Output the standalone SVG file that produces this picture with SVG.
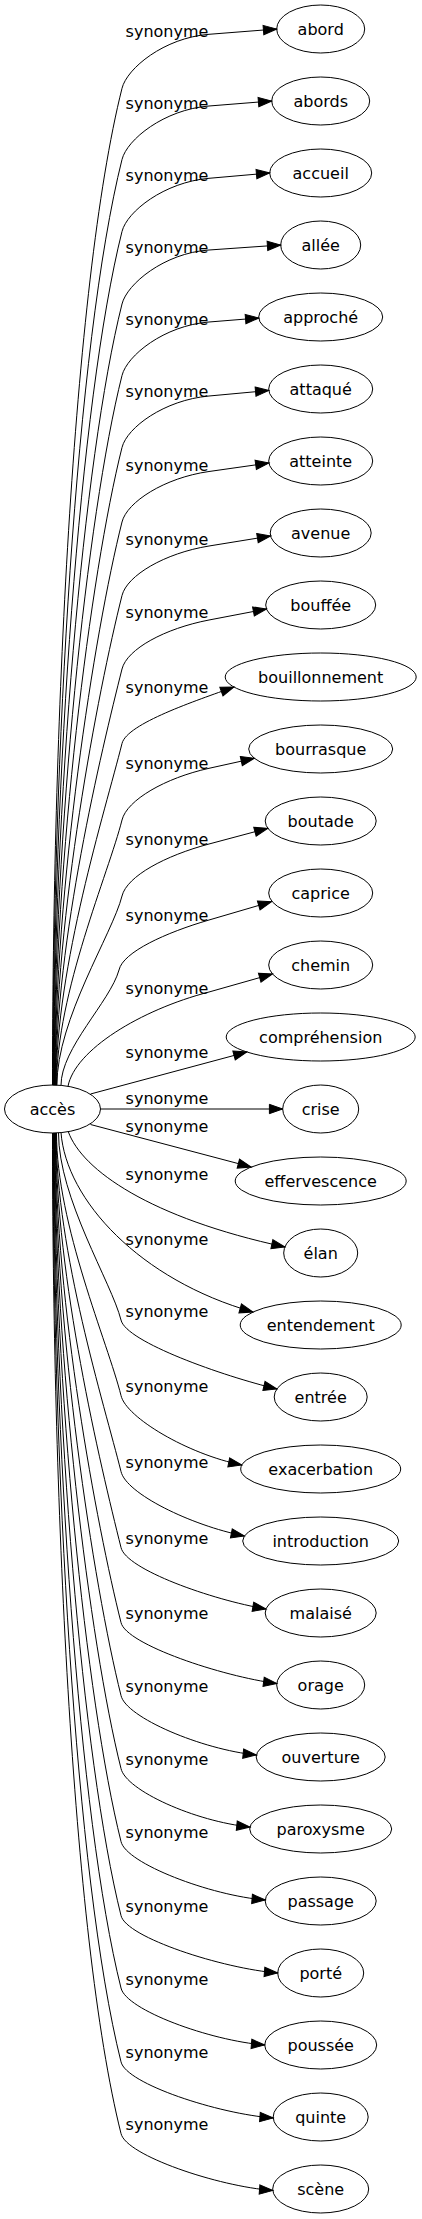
<svg xmlns="http://www.w3.org/2000/svg" width="422" height="2219" viewBox="0 0 422 2219">
<style>
.node ellipse{fill:none;stroke:#000;stroke-width:1}
.node text{font-family:"DejaVu Sans","Liberation Sans",sans-serif;font-size:16px;fill:#000;text-anchor:middle}
.edges path{fill:none;stroke:#000;stroke-width:1;marker-end:url(#arr)}
.edges text{font-family:"DejaVu Sans","Liberation Sans",sans-serif;font-size:16px;fill:#000;text-anchor:middle}
</style>
<defs>
<marker id="arr" markerUnits="userSpaceOnUse" markerWidth="14" markerHeight="10" viewBox="0 0 14 10" refX="13.3" refY="4.67" orient="auto" overflow="visible">
<path d="M0,0 L13.3,4.67 L0,9.33 z" fill="#000" stroke="#000" stroke-width="1"/>
</marker>
</defs>
<rect width="422" height="2219" fill="#fff"/>
<g id="edges" class="edges">
<path d="M52.5,1085.2 C52.5,736.3 72.2,287.7 122,88.3 C127,68.3 164.1,37.8 209,34.3 L276.7,29"/>
<path d="M52.9,1085.2 C52.9,761.2 75.7,344.6 122,159.5 C127,139.5 164.1,109.6 209,106 L271.7,101"/>
<path d="M53.3,1085.2 C53.3,786.4 79.3,402.2 122,231.5 C127,211.5 164.2,182.2 209,178.3 L269.7,173"/>
<path d="M53.7,1085.2 C53.7,811.8 82.9,460.2 122,304 C127,284 164.1,253.1 209,250 L280.7,245"/>
<path d="M54.1,1085.2 C54.1,836.8 86.5,517.4 122,375.5 C127,355.5 164.1,325.6 209,322 L258.8,318"/>
<path d="M54.5,1085.2 C54.5,862 90.1,575 122,447.5 C127,427.5 164.2,400.1 209,396 L268.8,390.5"/>
<path d="M54.9,1085.2 C54.9,888.1 93.8,634.6 122,522 C127,502 164.4,477.8 209,471.5 L268.9,463"/>
<path d="M55.3,1085.2 C55.3,913.8 97.5,693.4 122,595.5 C127,575.5 164.6,553.2 209,546 L270.6,536"/>
<path d="M55.7,1085.2 C55.7,939.5 101.2,752.2 122,669 C127,649 164.8,628.5 209,620 L266.5,609"/>
<path d="M56.1,1085.2 C56.1,965.6 104.9,811.8 122,743.5 C127,723.5 196.3,700.6 233.9,687"/>
<path d="M56.5,1085.2 C56.5,992.4 108.7,873 122,820 C127,800 165.1,778 209,768.3 L254.3,758.3"/>
<path d="M56.9,1085.2 C56.9,1019 112.5,933.8 122,896 C127,876 165.5,855.6 209,844 L267.8,828.3"/>
<path d="M61,1085.4 C61,1048 110,1002 119,970 C123,952 165.8,932.6 209,920 L271.5,901.7"/>
<path d="M68,1086.3 C75,1050 140,1010 209,992 L272.5,974"/>
<path d="M90.5,1094 L246.9,1052"/>
<path d="M100.5,1109 L282.7,1109"/>
<path d="M90.5,1124.5 L251.2,1167"/>
<path d="M68.3,1131.7 C82,1170 150,1218 284.9,1247"/>
<path d="M61,1132.4 C66,1200 140,1280 253,1312"/>
<path d="M58.5,1132.8 C58.5,1198.3 111.6,1282.6 121,1320 C126,1342 223.4,1376.2 276.9,1389"/>
<path d="M56.5,1133 C56.5,1224.9 107.9,1343 121,1395.5 C126,1417.5 187.8,1454.2 241.8,1465"/>
<path d="M56.1,1133 C56.1,1251.5 104.1,1403.8 121,1471.5 C126,1493.5 190.4,1525.2 244.4,1536"/>
<path d="M55.7,1133 C55.7,1278.1 100.3,1464.6 121,1547.5 C126,1569.5 211.8,1599.8 266,1609"/>
<path d="M55.3,1133 C55.3,1304.3 96.5,1524.6 121,1622.5 C126,1644.5 222.3,1676.4 276.8,1683.5"/>
<path d="M54.9,1133 C54.9,1329.9 92.9,1583 121,1695.5 C126,1717.5 201.7,1749.5 256.4,1755"/>
<path d="M54.5,1133 C54.5,1355.4 89.2,1641.4 121,1768.5 C126,1790.5 195.3,1821.5 250,1827"/>
<path d="M54.1,1133 C54.1,1381 85.6,1699.8 121,1841.5 C126,1863.5 210.5,1895.6 265.3,1900"/>
<path d="M53.7,1133 C53.7,1406.9 81.9,1759 121,1915.5 C126,1937.5 222.9,1968.6 277.7,1973"/>
<path d="M53.3,1133 C53.3,1432.3 78.25,1817 121,1988 C126,2010 209.9,2040.6 264.7,2045"/>
<path d="M52.9,1133 C52.9,1458.1 74.6,1876 121,2061.8 C126,2083.8 218.4,2113.9 273.2,2118"/>
<path d="M52.5,1133 C52.5,1483.2 71,1933.4 121,2133.5 C126,2155.5 218,2186.4 272.8,2190.5"/>
<text x="167" y="37.3">synonyme</text>
<text x="167" y="108.5">synonyme</text>
<text x="167" y="180.5">synonyme</text>
<text x="167" y="253">synonyme</text>
<text x="167" y="324.5">synonyme</text>
<text x="167" y="396.5">synonyme</text>
<text x="167" y="471">synonyme</text>
<text x="167" y="544.5">synonyme</text>
<text x="167" y="618">synonyme</text>
<text x="167" y="692.5">synonyme</text>
<text x="167" y="769">synonyme</text>
<text x="167" y="845">synonyme</text>
<text x="167" y="921">synonyme</text>
<text x="167" y="993.5">synonyme</text>
<text x="167" y="1058">synonyme</text>
<text x="167" y="1104">synonyme</text>
<text x="167" y="1131.7">synonyme</text>
<text x="167" y="1179.5">synonyme</text>
<text x="167" y="1245">synonyme</text>
<text x="167" y="1316.5">synonyme</text>
<text x="167" y="1392">synonyme</text>
<text x="167" y="1468">synonyme</text>
<text x="167" y="1544">synonyme</text>
<text x="167" y="1619">synonyme</text>
<text x="167" y="1692">synonyme</text>
<text x="167" y="1765">synonyme</text>
<text x="167" y="1838">synonyme</text>
<text x="167" y="1912">synonyme</text>
<text x="167" y="1984.5">synonyme</text>
<text x="167" y="2058.3">synonyme</text>
<text x="167" y="2130">synonyme</text>
</g>
<g id="n-acces" class="node"><ellipse cx="52.5" cy="1109" rx="48" ry="24"/><text x="52.5" y="1115">accès</text></g>
<g id="n-abord" class="node"><ellipse cx="320.7" cy="29" rx="44" ry="24"/><text x="320.7" y="35">abord</text></g>
<g id="n-abords" class="node"><ellipse cx="320.7" cy="101" rx="49" ry="24"/><text x="320.7" y="107">abords</text></g>
<g id="n-accueil" class="node"><ellipse cx="320.7" cy="173" rx="51" ry="24"/><text x="320.7" y="179">accueil</text></g>
<g id="n-allee" class="node"><ellipse cx="320.7" cy="245" rx="40" ry="24"/><text x="320.7" y="251">allée</text></g>
<g id="n-approche" class="node"><ellipse cx="320.7" cy="317" rx="62" ry="24"/><text x="320.7" y="323">approché</text></g>
<g id="n-attaque" class="node"><ellipse cx="320.7" cy="389" rx="52" ry="24"/><text x="320.7" y="395">attaqué</text></g>
<g id="n-atteinte" class="node"><ellipse cx="320.7" cy="461" rx="52" ry="24"/><text x="320.7" y="467">atteinte</text></g>
<g id="n-avenue" class="node"><ellipse cx="320.7" cy="533" rx="50.5" ry="24"/><text x="320.7" y="539">avenue</text></g>
<g id="n-bouffee" class="node"><ellipse cx="320.7" cy="605" rx="55" ry="24"/><text x="320.7" y="611">bouffée</text></g>
<g id="n-bouillonnement" class="node"><ellipse cx="320.7" cy="677" rx="95.5" ry="24"/><text x="320.7" y="683">bouillonnement</text></g>
<g id="n-bourrasque" class="node"><ellipse cx="320.7" cy="749" rx="72" ry="24"/><text x="320.7" y="755">bourrasque</text></g>
<g id="n-boutade" class="node"><ellipse cx="320.7" cy="821" rx="55.5" ry="24"/><text x="320.7" y="827">boutade</text></g>
<g id="n-caprice" class="node"><ellipse cx="320.7" cy="893" rx="52" ry="24"/><text x="320.7" y="899">caprice</text></g>
<g id="n-chemin" class="node"><ellipse cx="320.7" cy="965" rx="52" ry="24"/><text x="320.7" y="971">chemin</text></g>
<g id="n-comprehension" class="node"><ellipse cx="320.7" cy="1037" rx="94.5" ry="24"/><text x="320.7" y="1043">compréhension</text></g>
<g id="n-crise" class="node"><ellipse cx="320.7" cy="1109" rx="38" ry="24"/><text x="320.7" y="1115">crise</text></g>
<g id="n-effervescence" class="node"><ellipse cx="320.7" cy="1181" rx="85.5" ry="24"/><text x="320.7" y="1187">effervescence</text></g>
<g id="n-elan" class="node"><ellipse cx="320.7" cy="1253" rx="37" ry="24"/><text x="320.7" y="1259">élan</text></g>
<g id="n-entendement" class="node"><ellipse cx="320.7" cy="1325" rx="80.5" ry="24"/><text x="320.7" y="1331">entendement</text></g>
<g id="n-entree" class="node"><ellipse cx="320.7" cy="1397" rx="46.5" ry="24"/><text x="320.7" y="1403">entrée</text></g>
<g id="n-exacerbation" class="node"><ellipse cx="320.7" cy="1469" rx="80" ry="24"/><text x="320.7" y="1475">exacerbation</text></g>
<g id="n-introduction" class="node"><ellipse cx="320.7" cy="1541" rx="78" ry="24"/><text x="320.7" y="1547">introduction</text></g>
<g id="n-malaise" class="node"><ellipse cx="320.7" cy="1613" rx="55.5" ry="24"/><text x="320.7" y="1619">malaisé</text></g>
<g id="n-orage" class="node"><ellipse cx="320.7" cy="1685" rx="44" ry="24"/><text x="320.7" y="1691">orage</text></g>
<g id="n-ouverture" class="node"><ellipse cx="320.7" cy="1757" rx="64.5" ry="24"/><text x="320.7" y="1763">ouverture</text></g>
<g id="n-paroxysme" class="node"><ellipse cx="320.7" cy="1829" rx="71" ry="24"/><text x="320.7" y="1835">paroxysme</text></g>
<g id="n-passage" class="node"><ellipse cx="320.7" cy="1901" rx="55.5" ry="24"/><text x="320.7" y="1907">passage</text></g>
<g id="n-porte" class="node"><ellipse cx="320.7" cy="1973" rx="43" ry="24"/><text x="320.7" y="1979">porté</text></g>
<g id="n-poussee" class="node"><ellipse cx="320.7" cy="2045" rx="56" ry="24"/><text x="320.7" y="2051">poussée</text></g>
<g id="n-quinte" class="node"><ellipse cx="320.7" cy="2117" rx="47.5" ry="24"/><text x="320.7" y="2123">quinte</text></g>
<g id="n-scene" class="node"><ellipse cx="320.7" cy="2189" rx="48" ry="24"/><text x="320.7" y="2195">scène</text></g>
</svg>
